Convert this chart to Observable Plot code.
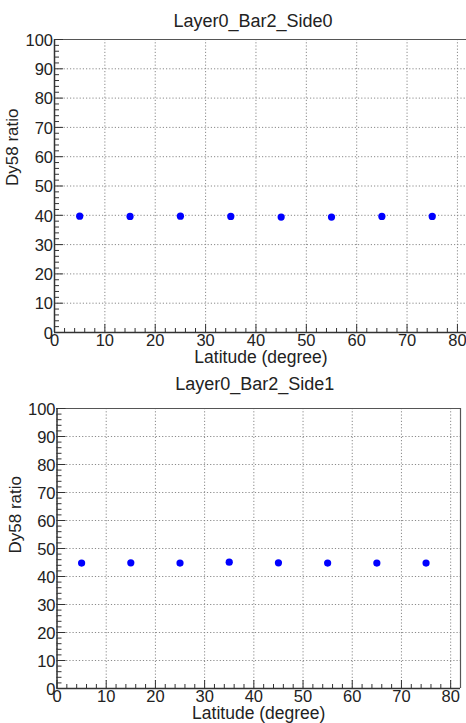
<!DOCTYPE html>
<html>
<head>
<meta charset="utf-8">
<script src="https://cdn.jsdelivr.net/npm/d3@7"></script>
<script src="https://cdn.jsdelivr.net/npm/@observablehq/plot@0.6"></script>
<style>
  html, body { margin: 0; padding: 0; background: #fff; }
  svg { display: block; }
</style>
</head>
<body>
<div id="chart"></div>
<script>
const latitudes = [5, 15, 25, 35, 45, 55, 65, 75];
const side0Ratio = [39.7, 39.6, 39.7, 39.6, 39.4, 39.4, 39.6, 39.6];
const side1Ratio = [44.8, 44.9, 44.8, 45.1, 44.9, 44.8, 44.8, 44.8];
const titles = ["Layer0_Bar2_Side0", "Layer0_Bar2_Side1"];
const xLabel = "Latitude (degree)";
const yLabel = "Dy58 ratio";
const xMajor = [0, 10, 20, 30, 40, 50, 60, 70, 80];
const xMinor = d3.range(0, 82, 2).filter(v => v % 10 !== 0);
const yMajor = [0, 10, 20, 30, 40, 50, 60, 70, 80, 90, 100];
const yMinor = d3.range(0, 100, 2).filter(v => v % 10 !== 0);

const FONT = "Liberation Sans, Arial, Helvetica, sans-serif";

function panel(title, values, o) {
  const data = latitudes.map((lat, i) => ({lat, v: values[i]}));
  return Plot.plot({
    width: 466,
    height: o.height,
    marginLeft: o.ml,
    marginRight: o.mr,
    marginTop: o.mt,
    marginBottom: o.mb,
    style: {fontFamily: FONT, background: "#fff", overflow: "visible"},
    x: {domain: [0, 82], axis: null},
    y: {domain: [0, 100], axis: null},
    marks: [
      Plot.gridX(xMajor, {stroke: "#8a8a8a", strokeOpacity: 1, strokeDasharray: "1.2,2"}),
      Plot.gridY(yMajor, {stroke: "#8a8a8a", strokeOpacity: 1, strokeDasharray: "1.2,2"}),
      Plot.ruleY([100], {stroke: "#555", strokeWidth: 1.2}),
      Plot.ruleX([82], {stroke: "#555", strokeWidth: 1.2}),
      // inward ticks
      Plot.axisX(xMinor, {tickSize: -4, tickFormat: () => "", label: null, stroke: "#333"}),
      Plot.axisX(xMajor, {tickSize: -8, tickFormat: () => "", label: null, stroke: "#333"}),
      Plot.axisY(yMinor, {tickSize: -5, tickFormat: () => "", label: null, stroke: "#333"}),
      Plot.axisY(yMajor, {tickSize: -9, tickFormat: () => "", label: null, stroke: "#333"}),
      // axis lines
      Plot.ruleY([0], {stroke: "#333", strokeWidth: 1.5}),
      Plot.ruleX([0], {stroke: "#333", strokeWidth: 1.5}),
      // tick labels
      Plot.axisX(xMajor, {tickSize: 0, tickPadding: 2, label: null, fontSize: 16.5, fill: "#222"}),
      Plot.axisY(yMajor, {tickSize: 0, tickPadding: 1.5, label: null, fontSize: 16.5, fill: "#222", dy: 1}),
      // points
      Plot.dot(data, {x: "lat", y: "v", r: 3.6, fill: "#0000ff", stroke: "none"}),
      // titles
      Plot.text([title], {frameAnchor: "top", dx: o.tdx, dy: o.tdy, fontSize: 18, fill: "#222"}),
      Plot.text([xLabel], {frameAnchor: "bottom", dy: o.xdy, fontSize: 17.5, fill: "#222"}),
      Plot.text([yLabel], {frameAnchor: "left", rotate: -90, dx: o.ydx, dy: o.ydy, fontSize: 17, fill: "#222"})
    ]
  });
}

const root = document.getElementById("chart");
root.append(panel(titles[0], side0Ratio, {height: 363, ml: 54, mr: -1, mt: 39, mb: 31, tdx: -8, tdy: -25, xdy: 30, ydx: -42, ydy: 0}));
root.append(panel(titles[1], side1Ratio, {height: 360, ml: 56.5, mr: 6, mt: 45, mb: 35, tdx: -4, tdy: -31, xdy: 30, ydx: -41, ydy: 5}));
</script>
</body>
</html>
